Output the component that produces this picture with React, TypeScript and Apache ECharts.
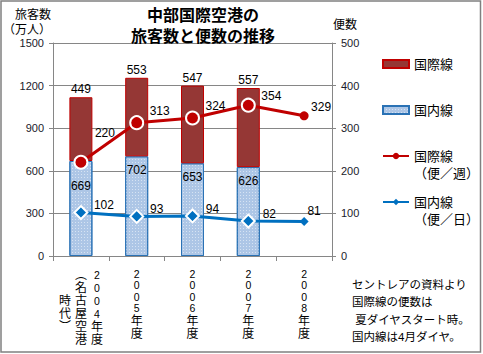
import React, { useEffect, useRef } from 'react';
import * as echarts from 'echarts';

// ---- data ----
const categories = ['2004年度（名古屋空港時代）', '2005年度', '2006年度', '2007年度', '2008年度'];
const domesticPassengers: (number | null)[] = [669, 702, 653, 626, null];
const internationalPassengers: (number | null)[] = [449, 553, 547, 557, null];
const intlFlightsPerWeek = [220, 313, 324, 354, 329];
const domFlightsPerDay = [102, 93, 94, 82, 81];
const leftAxisTicks = { min: 0, max: 1500, interval: 300 };
const rightAxisTicks = { min: 0, max: 500, interval: 100 };
const noteLines = ['セントレアの資料より', '国際線の便数は', '\u00a0夏ダイヤスタート時。', '国内線は4月ダイヤ。'];

// ---- label placement (styles, not data) ----
const domLabelDistance = [19, 8, 8, 8, 8];
const intlLineLabelOffset = [[24, -29], [23, -12], [23, -12], [23, -9], [17, -9]];
const domLineLabelOffset = [[23, -8], [20, -7], [20, -7], [21, -7], [10, -10]];

const FONT = '"Liberation Sans", "Noto Sans CJK JP", sans-serif';
const NUMFONT = '"Liberation Sans", Arial, sans-serif';

const VERT: Record<string, string> = { '（': '︵', '）': '︶' };

function verticalLabel(value: string): string {
  const idx = value.indexOf('（');
  const cols: string[][] = [];
  const head = idx >= 0 ? value.slice(0, idx) : value;
  cols.push(Array.from(head));
  if (idx >= 0) {
    const rest = Array.from(value.slice(idx)).map((c) => VERT[c] ?? c);
    for (let i = 0; i < rest.length; i += 6) cols.push(rest.slice(i, i + 6));
  }
  const rows = Math.max(...cols.map((c) => c.length));
  const padded = cols.map((c) => {
    const top = Math.ceil((rows - c.length) / 2);
    const arr: (string | undefined)[] = new Array(rows).fill(undefined);
    c.forEach((ch, i) => (arr[top + i] = ch));
    return arr;
  });
  const lines: string[] = [];
  for (let r = 0; r < rows; r++) {
    let line = '';
    for (let ci = padded.length - 1; ci >= 0; ci--) {
      const ch = padded[ci][r];
      if (ch === undefined) line += '{e|　}';
      else if (/[0-9]/.test(ch)) line += `{d|${ch}}`;
      else line += `{k|${ch}}`;
    }
    lines.push(line);
  }
  return lines.join('\n');
}

// two-line legend text whose first line sits level with the icon
const lineLegendFormatter = (n: string) => '\u3000\n' + n.replace('（', '\n（');

export default function App() {
  const ref = useRef<HTMLDivElement>(null);
  useEffect(() => {
    document.body.style.margin = '0';
    if (!ref.current) return;
    const chart = echarts.init(ref.current, null, { renderer: 'svg' });

    const domData = domesticPassengers.map((v, i) => ({
      value: v,
      label: { distance: domLabelDistance[i] },
    }));
    const intlLineData = intlFlightsPerWeek.map((v, i) => {
      const last = i === intlFlightsPerWeek.length - 1;
      return {
        value: v,
        symbolSize: last ? 9 : 13,
        itemStyle: last ? {} : { borderColor: '#fff', borderWidth: 2 },
        label: { offset: intlLineLabelOffset[i] },
      };
    });
    const domLineData = domFlightsPerDay.map((v, i) => {
      const last = i === domFlightsPerDay.length - 1;
      return {
        value: v,
        symbolSize: last ? 9 : 13,
        itemStyle: last ? {} : { borderColor: '#fff', borderWidth: 2 },
        label: { offset: domLineLabelOffset[i] },
      };
    });

    const legendText = { fontFamily: FONT, fontSize: 13, color: '#000', lineHeight: 17 };

    chart.setOption({
      animation: false,
      backgroundColor: '#fff',
      title: {
        text: '中部国際空港の\n旅客数と便数の推移',
        left: 203,
        top: 5,
        textAlign: 'center',
        padding: 0,
        textStyle: { fontFamily: FONT, fontSize: 16, fontWeight: 'bold', color: '#000', lineHeight: 21 },
      },
      legend: [
        {
          data: ['国際線'], left: 382, top: 55.5, padding: 0, itemWidth: 26, itemHeight: 8, icon: 'rect',
          textStyle: legendText,
        },
        {
          data: ['国内線'], left: 382, top: 101.5, padding: 0, itemWidth: 26, itemHeight: 8, icon: 'rect',
          textStyle: legendText,
        },
        {
          data: ['国際線（便／週）'], left: 382, top: 130.5, padding: 0, itemWidth: 26, itemHeight: 8,
          textStyle: legendText, formatter: lineLegendFormatter,
        },
        {
          data: ['国内線（便／日）'], left: 382, top: 176.5, padding: 0, itemWidth: 26, itemHeight: 8,
          textStyle: legendText, formatter: lineLegendFormatter,
        },
      ],
      grid: { left: 48, right: 151, top: 43, bottom: 98 },
      xAxis: {
        type: 'category',
        data: categories,
        axisLine: { lineStyle: { color: '#868686', width: 1 } },
        axisTick: { show: true, length: 5, lineStyle: { color: '#868686' } },
        axisLabel: {
          margin: 12,
          interval: 0,
          formatter: (v: string) => verticalLabel(v),
          rich: {
            d: { fontFamily: NUMFONT, fontSize: 10.5, lineHeight: 11.5, width: 16, align: 'center', color: '#000' },
            k: { fontFamily: FONT, fontSize: 12, lineHeight: 13, width: 16, align: 'center', color: '#000' },
            e: { fontFamily: FONT, fontSize: 12, lineHeight: 13, width: 16, align: 'center', color: '#000' },
          },
        },
      },
      yAxis: [
        {
          type: 'value',
          ...leftAxisTicks,
          name: '旅客数\n（万人）',
          nameLocation: 'end',
          nameGap: 3,
          nameTextStyle: { fontFamily: FONT, fontSize: 12, color: '#000', align: 'right', lineHeight: 15, padding: [0, 2, 0, 0] },
          axisLine: { show: true, lineStyle: { color: '#868686' } },
          axisTick: { show: true, length: 4, lineStyle: { color: '#868686' } },
          axisLabel: { fontFamily: NUMFONT, fontSize: 11, color: '#1a1a2a', margin: 9, formatter: (v: number) => String(v) },
          splitLine: { show: true, lineStyle: { color: '#868686', width: 1 } },
        },
        {
          type: 'value',
          ...rightAxisTicks,
          name: '便数',
          nameLocation: 'end',
          nameGap: 12,
          nameTextStyle: { fontFamily: FONT, fontSize: 12, color: '#000', align: 'left', padding: [0, 0, 0, 1] },
          axisLine: { show: true, lineStyle: { color: '#868686' } },
          axisTick: { show: true, length: 4, lineStyle: { color: '#868686' } },
          axisLabel: { fontFamily: NUMFONT, fontSize: 11, color: '#1a1a2a', margin: 9, formatter: (v: number) => String(v) },
          splitLine: { show: false },
        },
      ],
      series: [
        {
          name: '国内線',
          type: 'bar',
          stack: 'pax',
          barWidth: 23,
          data: domData,
          itemStyle: {
            color: '#adc6e6',
            borderColor: '#2a72b5',
            borderWidth: 1,
            decal: {
              symbol: 'rect',
              symbolSize: 1,
              color: 'rgba(255,255,255,0.5)',
              dashArrayX: [1, 2],
              dashArrayY: [1, 2],
              rotation: 0,
            },
          },
          label: {
            show: true,
            position: 'insideTop',
            fontFamily: NUMFONT,
            fontSize: 12,
            color: '#000',
          },
        },
        {
          name: '国際線',
          type: 'bar',
          stack: 'pax',
          barWidth: 23,
          data: internationalPassengers,
          itemStyle: { color: '#953735', borderColor: '#c00000', borderWidth: 1 },
          label: { show: true, position: 'top', distance: 2, fontFamily: NUMFONT, fontSize: 12, color: '#000' },
        },
        {
          name: '国際線（便／週）',
          type: 'line',
          yAxisIndex: 1,
          data: intlLineData,
          symbol: 'circle',
          color: '#c00000',
          lineStyle: { color: '#c00000', width: 3 },
          itemStyle: { color: '#c00000' },
          label: { show: true, position: 'inside', fontFamily: NUMFONT, fontSize: 12, color: '#000' },
          z: 5,
        },
        {
          name: '国内線（便／日）',
          type: 'line',
          yAxisIndex: 1,
          data: domLineData,
          symbol: 'diamond',
          color: '#0070c0',
          lineStyle: { color: '#0070c0', width: 3 },
          itemStyle: { color: '#0070c0' },
          label: { show: true, position: 'inside', fontFamily: NUMFONT, fontSize: 12, color: '#000' },
          z: 5,
        },
      ],
      graphic: [
        {
          type: 'rect',
          shape: { x: 1, y: 1, width: 479.5, height: 351 },
          style: { fill: 'none', stroke: '#808080', lineWidth: 1.5 },
          silent: true,
        },
        {
          type: 'text',
          left: 352,
          top: 276,
          style: {
            text: noteLines.join('\n'),
            fontFamily: FONT,
            fontSize: 11.5,
            lineHeight: 17.5,
            fill: '#000',
          },
        },
      ],
    });
    return () => chart.dispose();
  }, []);
  return <div ref={ref} style={{ width: 483, height: 354 }} />;
}
